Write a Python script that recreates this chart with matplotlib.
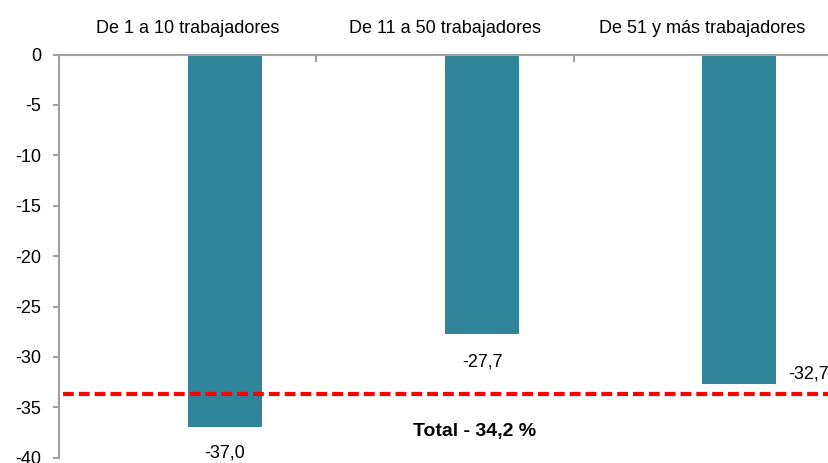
import matplotlib
matplotlib.use("Agg")
import matplotlib.pyplot as plt

categories = ["De 1 a 10 trabajadores", "De 11 a 50 trabajadores", "De 51 y más trabajadores"]
values = [-37.0, -27.7, -32.7]
value_labels = ["-37,0", "-27,7", "-32,7"]
total_line = -33.65
total_label = "Total - 34,2 %"
yticks = [0, -5, -10, -15, -20, -25, -30, -35, -40]

plt.rcParams['font.family'] = ['Liberation Sans', 'DejaVu Sans']

fig = plt.figure(figsize=(8.29, 4.63), dpi=100)
ax = fig.add_axes([59/829, 1-457.7/463, (831-59)/829, (457.7-54.5)/463])

bar_color = "#31859b"
gray = "#a0a0a0"
width = 0.288
xs = list(range(len(categories)))
ax.bar(xs, values, width=width, align='edge', color=bar_color, zorder=2)

ax.set_xlim(-0.5, 2.5)
ax.set_ylim(-40, 0)
ax.set_yticks(yticks)
ax.set_yticklabels([str(t) for t in yticks], fontsize=13)

for s in ['right', 'bottom']:
    ax.spines[s].set_visible(False)
for s in ['left', 'top']:
    ax.spines[s].set_color(gray)
    ax.spines[s].set_linewidth(1.5)

ax.tick_params(axis='y', direction='out', length=4.5, color=gray, width=1.5, pad=8.5)
ax.xaxis.set_ticks_position('top')
ax.set_xticks([0.5, 1.5])
ax.set_xticklabels([])
ax.tick_params(axis='x', direction='in', length=5, color=gray, width=1.5)

for i, c in enumerate(categories):
    ax.annotate(c, (i, 1.0), xycoords=ax.get_xaxis_transform(), xytext=(0, 26),
                textcoords='offset pixels', ha='center', va='center', fontsize=13)

# value labels
ax.annotate(value_labels[0], (0 + width/2, values[0]), xytext=(0, -26), textcoords='offset pixels',
            ha='center', va='center', fontsize=13)
ax.annotate(value_labels[1], (1 + width/2, values[1]), xytext=(0, -28), textcoords='offset pixels',
            ha='center', va='center', fontsize=13)
ax.annotate(value_labels[2], (2 + width, values[2]), xytext=(12, 10), textcoords='offset pixels',
            ha='left', va='center', fontsize=13)

ax.plot([-0.485, 2.5], [total_line, total_line], color='#ff0000', lw=3,
        dashes=(2.6, 1.2), zorder=3, clip_on=False)
ax.annotate(total_label, (1.1, total_line), xytext=(4, -38), textcoords='offset pixels',
            ha='center', va='center', fontsize=14, fontweight='bold')

fig.savefig("out.png", dpi=100)
